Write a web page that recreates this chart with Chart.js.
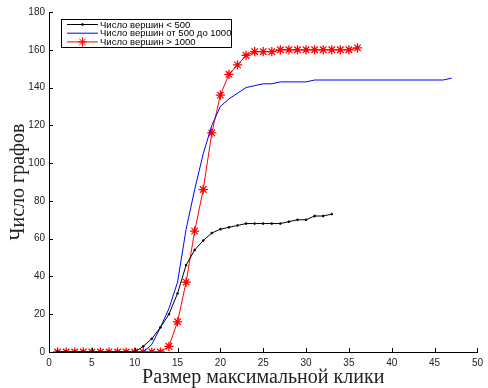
<!DOCTYPE html>
<html>
<head>
<meta charset="utf-8">
<script src="https://cdn.jsdelivr.net/npm/chart.js@4"></script>
<style>
  html, body { margin: 0; padding: 0; background: #fff; }
  #wrap { width: 488px; height: 388px; }
</style>
</head>
<body>
<div id="wrap"><canvas id="cliqueChart" width="488" height="388"></canvas></div>
<script>
// series values, x = 1, 2, 3 ...
var small = [0, 0, 0, 0, 0, 0, 0, 0, 0, 0, 3, 7, 13, 20, 31, 46, 54, 59, 63, 65, 66, 67, 68, 68, 68, 68, 68, 69, 70, 70, 72, 72, 73];
var medium = [0, 0, 0, 0, 0, 0, 0, 0, 0, 0, 0, 4, 13, 23, 37, 65, 86, 105, 120, 130, 134, 137, 140, 141, 142, 142, 143, 143, 143, 143,
              144, 144, 144, 144, 144, 144, 144, 144, 144, 144, 144, 144, 144, 144, 144, 144, 145];
var large = [0, 0, 0, 0, 0, 0, 0, 0, 0, 0, 0, 0, 0, 3, 16, 37, 64, 86, 116, 136, 147, 152, 157, 159, 159, 159, 160, 160, 160, 160,
             160, 160, 160, 160, 160, 161];

var labels = ['Число вершин < 500', 'Число вершин от 500 до 1000', 'Число вершин > 1000'];
var xTicks = [0, 5, 10, 15, 20, 25, 30, 35, 40, 45, 50];
var yTicks = [0, 20, 40, 60, 80, 100, 120, 140, 160, 180];

function toPoints(arr) {
    return arr.map(function(v, i) { return {x: i + 1, y: v}; });
}

// legend box inside the plot, like the matlab one
var boxLegend = {
    id: 'boxLegend',
    afterDraw: function(chart) {
        var ctx = chart.ctx;
        var left = 61, top = 19, w = 170, h = 28;
        ctx.save();
        ctx.fillStyle = '#fff';
        ctx.fillRect(left, top, w, h);
        ctx.strokeStyle = '#000';
        ctx.lineWidth = 1;
        ctx.strokeRect(left + 0.5, top + 0.5, w, h);
        ctx.font = '9.5px "Liberation Sans", Arial, sans-serif';
        ctx.textBaseline = 'middle';
        chart.data.datasets.forEach(function(ds, i) {
            var y = top + 5.5 + i * 8.7;
            ctx.strokeStyle = ds.borderColor;
            ctx.fillStyle = ds.borderColor;
            ctx.lineWidth = 1;
            ctx.beginPath();
            ctx.moveTo(67, y);
            ctx.lineTo(98, y);
            ctx.stroke();
            if (ds.pointRadius > 0) {
                Chart.helpers.drawPoint(ctx, {pointStyle: ds.pointStyle, radius: ds.pointRadius, borderWidth: 1}, 82.5, y);
            }
            ctx.fillStyle = '#000';
            ctx.fillText(ds.label, 100, y + 0.5);
        });
        ctx.restore();
    }
};

// short ticks pointing into the plot
var innerTicks = {
    id: 'innerTicks',
    afterDraw: function(chart) {
        var ctx = chart.ctx;
        var xs = chart.scales.x, ys = chart.scales.y;
        var area = chart.chartArea;
        ctx.save();
        ctx.strokeStyle = '#000';
        ctx.lineWidth = 1;
        ctx.beginPath();
        xTicks.forEach(function(t) {
            var px = Math.round(xs.getPixelForValue(t)) + 0.5;
            ctx.moveTo(px, area.bottom);
            ctx.lineTo(px, area.bottom - 4);
        });
        yTicks.forEach(function(t) {
            var py = Math.round(ys.getPixelForValue(t)) + 0.5;
            ctx.moveTo(area.left, py);
            ctx.lineTo(area.left + 4, py);
        });
        ctx.stroke();
        ctx.restore();
    }
};

var ctx = document.getElementById('cliqueChart').getContext('2d');

new Chart(ctx, {
    type: 'line',
    data: {
        datasets: [
            {
                label: labels[0],
                data: toPoints(small),
                borderColor: '#000000',
                backgroundColor: '#000000',
                borderWidth: 1,
                pointRadius: 0.9,
                pointStyle: 'circle',
                tension: 0
            },
            {
                label: labels[1],
                data: toPoints(medium),
                borderColor: '#0000ff',
                backgroundColor: '#0000ff',
                borderWidth: 1,
                pointRadius: 0,
                tension: 0
            },
            {
                label: labels[2],
                data: toPoints(large),
                borderColor: '#ff0000',
                backgroundColor: '#ff0000',
                borderWidth: 1,
                pointRadius: 4.6,
                pointBorderWidth: 1.3,
                pointStyle: 'star',
                tension: 0
            }
        ]
    },
    options: {
        responsive: false,
        animation: false,
        layout: {
            padding: {top: 12, right: 7, left: 0, bottom: 0}
        },
        plugins: {
            legend: {display: false},
            tooltip: {enabled: false}
        },
        scales: {
            x: {
                type: 'linear',
                min: 0,
                max: 50,
                afterFit: function(scale) { scale.height = 36; },
                afterBuildTicks: function(scale) {
                    scale.ticks = xTicks.map(function(v) { return {value: v}; });
                },
                grid: {drawOnChartArea: false, drawTicks: false},
                border: {display: true, color: '#000', width: 1},
                ticks: {
                    padding: 5,
                    color: '#222',
                    maxRotation: 0,
                    font: {family: '"Liberation Sans", Arial, sans-serif', size: 10}
                },
                title: {
                    display: true,
                    text: 'Размер максимальной клики',
                    color: '#222',
                    padding: {top: 0, bottom: 0},
                    font: {family: '"Liberation Serif", "Times New Roman", serif', size: 20, lineHeight: 1}
                }
            },
            y: {
                type: 'linear',
                min: 0,
                max: 180,
                afterFit: function(scale) { scale.width = 49; },
                afterBuildTicks: function(scale) {
                    scale.ticks = yTicks.map(function(v) { return {value: v}; });
                },
                grid: {drawOnChartArea: false, drawTicks: false},
                border: {display: true, color: '#000', width: 1},
                ticks: {
                    padding: 4,
                    color: '#222',
                    font: {family: '"Liberation Sans", Arial, sans-serif', size: 10}
                },
                title: {
                    display: true,
                    text: 'Число графов',
                    color: '#222',
                    padding: {top: 9, bottom: 0},
                    font: {family: '"Liberation Serif", "Times New Roman", serif', size: 20, lineHeight: 1}
                }
            }
        }
    },
    plugins: [innerTicks, boxLegend]
});
</script>
</body>
</html>
